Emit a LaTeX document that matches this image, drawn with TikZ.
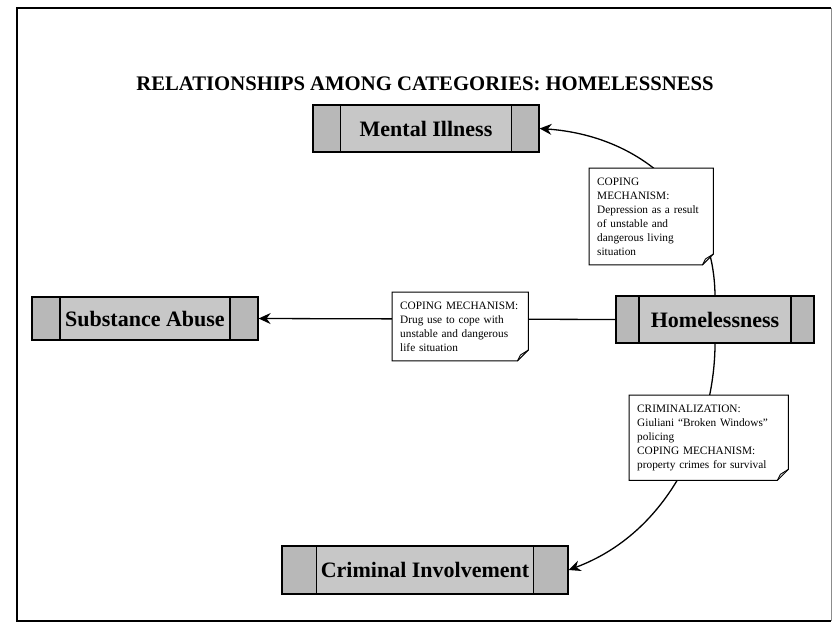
\documentclass[tikz,border=0pt]{standalone}
\usepackage{fontspec}
\setmainfont{Liberation Serif}
\usetikzlibrary{arrows.meta,calc}
\pgfdeclarelayer{bg}
\pgfdeclarelayer{mid}
\pgfsetlayers{bg,mid,main}
\newcommand\foldnote[1]{%
  \begin{pgfonlayer}{mid}
    \draw[line width=1pt, fill=white] (#1.north west) -- (#1.north east)
      -- ($(#1.south east)+(0,-11)$) -- ($(#1.south east)+(-11,0)$)
      -- (#1.south west) -- cycle;
    \draw[line width=0.9pt] ($(#1.south east)+(0,-11)$) -- ($(#1.south east)+(-8,-6)$)
      -- ($(#1.south east)+(-11,0)$);
  \end{pgfonlayer}}
\begin{document}
\begin{tikzpicture}[x=1pt,y=-1pt,
  cat/.style={draw, line width=1.2pt, fill=black!22, inner sep=0pt,
    font=\fontsize{22}{24}\selectfont\bfseries,
    path picture={
      \fill[black!28] (path picture bounding box.north west) rectangle ([xshift=#1]path picture bounding box.south west);
      \fill[black!28] (path picture bounding box.north east) rectangle ([xshift=-#1]path picture bounding box.south east);
      \draw[line width=1.1pt] ([xshift=#1]path picture bounding box.north west) -- ([xshift=#1]path picture bounding box.south west);
      \draw[line width=1.1pt] ([xshift=-#1]path picture bounding box.north east) -- ([xshift=-#1]path picture bounding box.south east);
    }},
  note/.style={anchor=north west, inner xsep=8pt, inner ysep=9.5pt, align=left,
    font={\fontsize{11.3}{14}\selectfont\hyphenpenalty=10000\exhyphenpenalty=10000}},
  link/.style={line width=1.3pt},
  arr/.style={link, -{Stealth[length=12pt,width=11pt,inset=4pt]}}]
\useasboundingbox (0,0) rectangle (834,629);
\draw[line width=1.5pt] (831,8) -- (17,8) -- (17,621) -- (831,621);
\draw[line width=1pt, black!45] (831,8) -- (831,621);

\node[anchor=base, font=\fontsize{20.7}{24}\selectfont\bfseries] (title) at (425,90)
  {RELATIONSHIPS AMONG CATEGORIES: HOMELESSNESS};

\node[cat=27.5pt, minimum width=226pt, minimum height=47pt] (mental) at (426,128.5) {Mental Illness};
\node[cat=28pt, minimum width=226pt, minimum height=43pt] (subst) at (145,318.5) {Substance Abuse};
\node[cat=23pt, minimum width=198pt, minimum height=47pt] (home) at (715,319.5) {Homelessness};
\node[cat=34.5pt, minimum width=286pt, minimum height=48pt] (crim) at (425,570) {Criminal Involvement};

\node[note, text width=108pt] (n1) at (589,168)
  {COPING\\MECHANISM:\\Depression as a result\\of unstable and\\dangerous living\\situation};
\node[note, text width=120pt] (n2) at (392,292)
  {COPING MECHANISM:\\Drug use to cope with\\unstable and dangerous\\life situation};
\node[note, text width=143pt] (n3) at (629,395)
  {CRIMINALIZATION:\\Giuliani “Broken Windows”\\policing\\COPING MECHANISM:\\property crimes for survival};
\foldnote{n1}
\foldnote{n2}
\foldnote{n3}

\begin{pgfonlayer}{bg}
  \draw[arr] (home.north) .. controls +(-1,-96) and +(101,7) .. (mental.east);
  \draw[arr] (home.west) -- (subst.east);
  \draw[arr] (home.south) .. controls +(0,77) and +(107,-40) .. (crim.east);
\end{pgfonlayer}
\end{tikzpicture}
\end{document}
